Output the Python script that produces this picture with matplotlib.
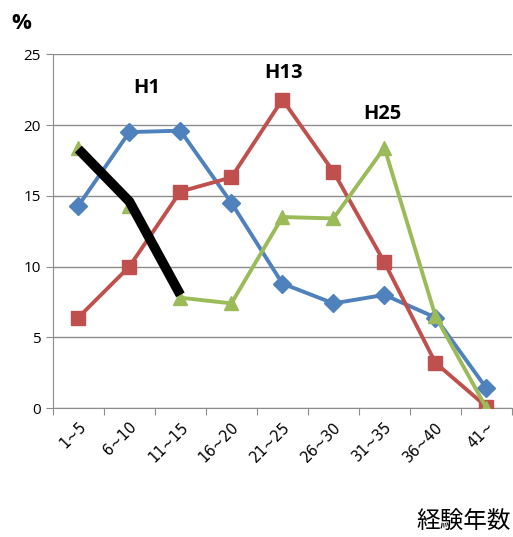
import numpy as np
import matplotlib
matplotlib.use('Agg')
import matplotlib.pyplot as plt

plt.rcParams['font.family'] = ['Open Sans', 'Noto Sans CJK JP', 'DejaVu Sans']

# data
categories = ['1~5', '6~10', '11~15', '16~20', '21~25', '26~30', '31~35', '36~40', '41~']
h1 = [14.3, 19.5, 19.6, 14.5, 8.8, 7.4, 8.0, 6.4, 1.4]
h13 = [6.4, 10.0, 15.3, 16.3, 21.8, 16.7, 10.3, 3.2, 0.1]
h25 = [18.4, 14.3, 7.8, 7.4, 13.5, 13.4, 18.4, 6.5, 0.0]
trend = [18.3, 14.6, 8.0]

x = np.arange(len(categories))

fig = plt.figure(figsize=(5.13, 5.37), dpi=100)
ax = fig.add_axes([0.103, 0.240, 0.895, 0.659])

ax.plot(x, h1, color='#4F81BD', lw=2.8, marker='D', ms=9, zorder=3)
ax.plot(x, h13, color='#C0504D', lw=2.8, marker='s', ms=10, zorder=3)
ax.plot(x, h25, color='#9BBB59', lw=2.8, marker='^', ms=10, zorder=3)
ax.plot(x[:3], trend, color='black', lw=7, solid_capstyle='butt', zorder=4)

ax.set_xlim(-0.5, len(categories) - 0.5)
ax.set_ylim(0, 25)
ax.set_yticks(range(0, 26, 5))
ax.yaxis.grid(True, color='#8c8c8c', lw=1)
ax.set_axisbelow(True)

ax.set_xticks(np.arange(-0.5, len(categories), 1))
ax.set_xticklabels([])
ax.set_xticks(x, minor=True)
ax.set_xticklabels(categories, minor=True, rotation=45, ha='right', va='top',
                   rotation_mode='anchor', fontsize=10.5, family='DejaVu Sans')
ax.tick_params(axis='x', which='minor', length=0, pad=8)
ax.tick_params(axis='x', which='major', length=5, color='#8c8c8c', direction='out')
ax.tick_params(axis='y', length=5, color='#8c8c8c', labelsize=11)

for s in ['top', 'right']:
    ax.spines[s].set_visible(False)
for s in ['left', 'bottom']:
    ax.spines[s].set_color('#8c8c8c')

fig.text(0.022, 0.957, '%', fontsize=16, fontweight='bold', va='center')
ax.text(1.35, 22.6, 'H1', fontsize=14.5, fontweight='bold', ha='center', va='center')
ax.text(4.02, 23.7, 'H13', fontsize=14.5, fontweight='bold', ha='center', va='center')
ax.text(5.96, 20.8, 'H25', fontsize=14.5, fontweight='bold', ha='center', va='center')
fig.text(0.995, 0.028, '経験年数', fontsize=17, ha='right', va='center',
         family=['Noto Sans CJK JP', 'DejaVu Sans'])

fig.savefig('out.png', dpi=100)
